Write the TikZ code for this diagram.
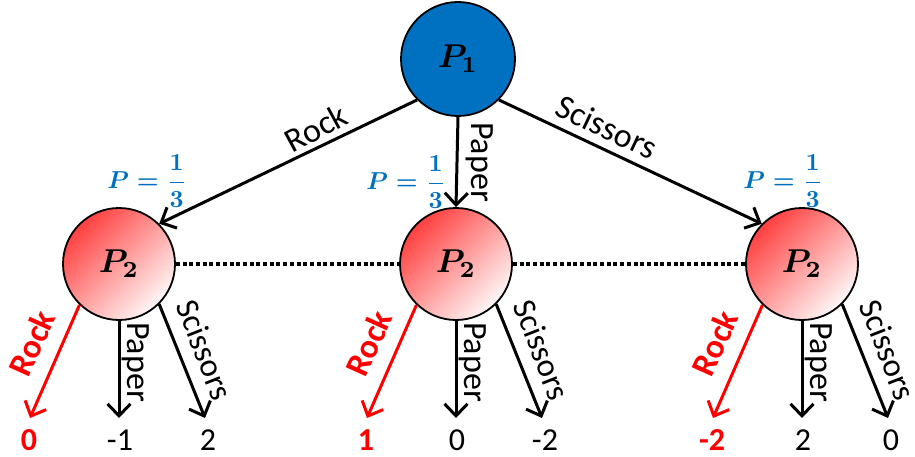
\documentclass[tikz,border=0pt]{standalone}
\usepackage{graphicx}
\usepackage{fontspec}
\setmainfont{Carlito}
\usetikzlibrary{arrows.meta}
\definecolor{pblue}{HTML}{0070C0}
\definecolor{pred}{HTML}{FF0000}
\newcommand{\pname}[1]{\scalebox{3.3}{\boldmath$P_{#1}$}}
\newcommand{\third}{\scalebox{2.45}{\boldmath$P=\displaystyle\frac{1}{3}$}}
\begin{document}
\begin{tikzpicture}[x=1pt,y=1pt,
  player/.style={circle, draw=black, line width=1.8pt, inner sep=0pt, minimum size=112pt},
  movearrow/.style={line width=3pt, -{Straight Barb[length=12pt,width=23pt,line width=3pt]}},
  redmove/.style={movearrow, draw=pred},
  lbl/.style={font=\fontsize{34}{38}\selectfont, inner sep=0pt},
  redlbl/.style={inner sep=0pt, text=pred, font=\fontsize{34}{38}\selectfont\bfseries},
  payoff/.style={font=\fontsize{32}{36}\selectfont, inner sep=0pt, anchor=base},
  redpayoff/.style={inner sep=0pt, text=pred, font=\fontsize{32}{36}\selectfont\bfseries, anchor=base},
  prob/.style={text=pblue, inner sep=0pt},
  infoset/.style={line width=3.5pt, dash pattern=on 4pt off 2.7pt}
]
\useasboundingbox (0,0) rectangle (915,-457);

% first player
\node[player, fill=pblue, minimum size=114pt] (p1) at (458,-59) {\pname{1}};

% second player, one node per first move
\node[player, top color=red!75, bottom color=red!3, shading angle=45] (p2l) at (119,-264) {\pname{2}};
\node[player, top color=red!75, bottom color=red!3, shading angle=45] (p2m) at (456,-264) {\pname{2}};
\node[player, top color=red!75, bottom color=red!3, shading angle=45] (p2r) at (802,-264) {\pname{2}};

% first moves
\draw[movearrow] (p1.225) -- (p2l.45);
\draw[movearrow] (p1.south) -- (p2m.north);
\draw[movearrow] (p1.-45) -- (p2r.135);
\node[lbl, rotate=28.5] (t1) at (316,-128) {Rock};
\node[lbl, rotate=-90] (t2) at (480,-162) {Paper};
\node[lbl, rotate=-25.4] (t3) at (607,-127) {Scissors};

% probabilities of the first moves
\node[prob] (q1) at (147,-181) {\third};
\node[prob] (q2) at (406,-182) {\third};
\node[prob] (q3) at (783,-181) {\third};

% information set of the second player
\draw[infoset] (p2l.east) -- (p2m.west);
\draw[infoset] (p2m.east) -- (p2r.west);

% second moves and payoffs
\foreach \nd/\cx/\va/\vb/\vc in {l/119/0/-1/2, m/456/1/0/-2, r/802/-2/2/0}{
  \coordinate (e\nd1) at (\cx-89,-418);
  \coordinate (e\nd2) at (\cx,-418);
  \coordinate (e\nd3) at (\cx+86,-418);
  \draw[redmove] (p2\nd.226) -- (e\nd1);
  \draw[movearrow] (p2\nd.south) -- (e\nd2);
  \draw[movearrow] (p2\nd.-45) -- (e\nd3);
  \node[redlbl, rotate=65.7] (r\nd) at (\cx-87,-343) {Rock};
  \node[lbl, rotate=-90] (s\nd) at (\cx+17,-362) {Paper};
  \node[lbl, rotate=-68.6, font=\fontsize{33}{37}\selectfont] (c\nd) at (\cx+86,-350) {Scissors};
  \node[redpayoff] (v\nd1) at (\cx-90,-450) {\va};
  \node[payoff] (v\nd2) at (\cx+1,-450) {\vb};
  \node[payoff] (v\nd3) at (\cx+89,-450) {\vc};
}
\end{tikzpicture}
\end{document}
